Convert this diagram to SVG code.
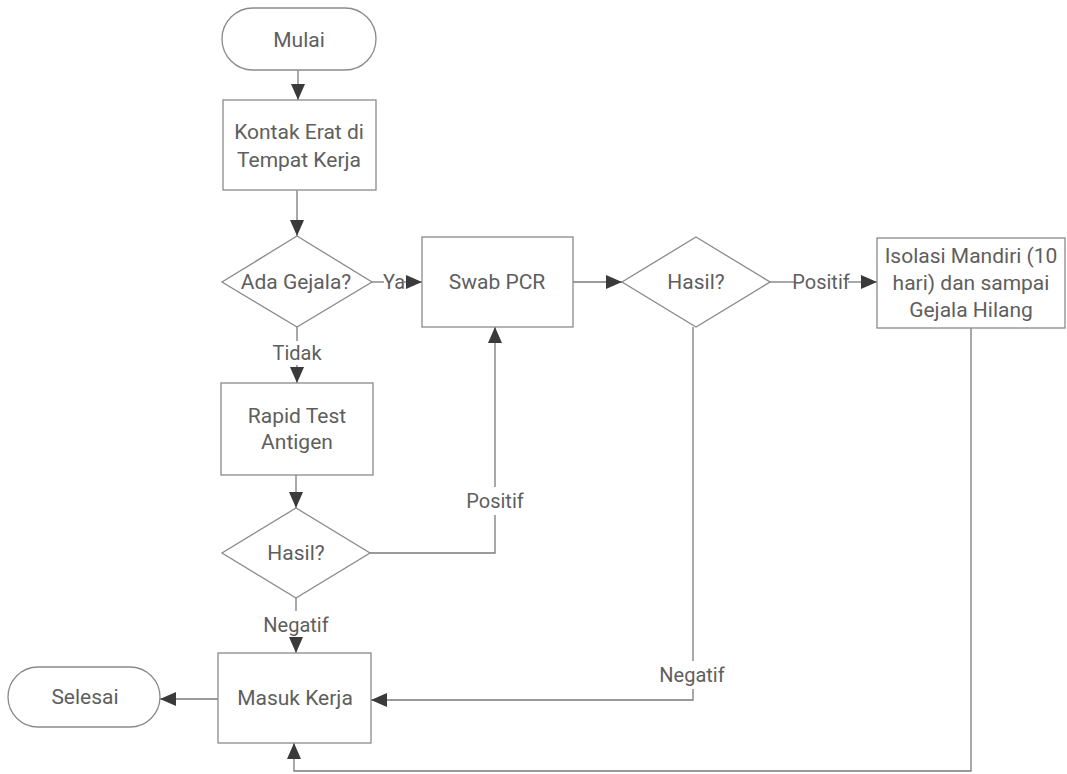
<svg xmlns="http://www.w3.org/2000/svg" width="1067" height="774" viewBox="0 0 1067 774">
  <style>
    .shape { fill: #ffffff; stroke: #8a8a8a; stroke-width: 1.3; }
    .edge { fill: none; stroke: #7a7a7a; stroke-width: 1.3; }
    .txt { font-family: Roboto, "Liberation Sans", sans-serif; font-size: 21px; fill: #5e5e5e; text-anchor: middle; dominant-baseline: central; }
    .lbl { font-family: Roboto, "Liberation Sans", sans-serif; font-size: 20px; fill: #5e5e5e; text-anchor: middle; dominant-baseline: central; }
  </style>
  <defs>
    <marker id="arrow" markerUnits="userSpaceOnUse" markerWidth="16" markerHeight="14" refX="16" refY="7" orient="auto">
      <path d="M0,0 L16,7 L0,14 Z" fill="#3a3a3a"/>
    </marker>
  </defs>
  <rect width="1067" height="774" fill="#ffffff"/>

  <g id="connectors">
    <!-- Mulai to Kontak -->
    <line class="edge" x1="298" y1="70" x2="298" y2="100" marker-end="url(#arrow)"/>
    <!-- Kontak to Ada Gejala -->
    <line class="edge" x1="297" y1="190" x2="297" y2="236" marker-end="url(#arrow)"/>
    <!-- Ada Gejala -> Ya -> Swab PCR -->
    <line class="edge" x1="372" y1="282" x2="384" y2="282"/>
    <text class="lbl" x="394" y="282">Ya</text>
    <line class="edge" x1="404" y1="282" x2="422" y2="282" marker-end="url(#arrow)"/>
    <!-- Ada Gejala -> Tidak -> Rapid -->
    <line class="edge" x1="297" y1="326" x2="297" y2="341"/>
    <text class="lbl" x="297" y="353">Tidak</text>
    <line class="edge" x1="297" y1="365" x2="297" y2="383" marker-end="url(#arrow)"/>
    <!-- Hasil (left) -> Positif -> Swab PCR -->
    <polyline class="edge" points="370,553 495,553 495,515"/>
    <text class="lbl" x="495" y="501">Positif</text>
    <line class="edge" x1="495" y1="487" x2="495" y2="327" marker-end="url(#arrow)"/>
    <!-- Rapid to Hasil -->
    <line class="edge" x1="296" y1="475" x2="296" y2="508" marker-end="url(#arrow)"/>
    <!-- Hasil (left) -> Negatif -> Masuk Kerja -->
    <line class="edge" x1="296" y1="598" x2="296" y2="611"/>
    <text class="lbl" x="296" y="625">Negatif</text>
    <line class="edge" x1="296" y1="638" x2="296" y2="653" marker-end="url(#arrow)"/>
    <!-- Swab PCR to Hasil (right) -->
    <line class="edge" x1="573" y1="282" x2="622" y2="282" marker-end="url(#arrow)"/>
    <!-- Hasil (right) -> Positif -> Isolasi -->
    <line class="edge" x1="770" y1="282" x2="794" y2="282"/>
    <text class="lbl" x="821" y="282">Positif</text>
    <line class="edge" x1="848" y1="282" x2="877" y2="282" marker-end="url(#arrow)"/>
    <!-- Hasil (right) -> Negatif -> Masuk Kerja -->
    <line class="edge" x1="693" y1="327" x2="693" y2="661"/>
    <text class="lbl" x="692" y="675">Negatif</text>
    <polyline class="edge" points="693,689 693,700 371,700" marker-end="url(#arrow)"/>
    <!-- Isolasi back to Masuk Kerja -->
    <polyline class="edge" points="971,328 971,771 294,771 294,743" marker-end="url(#arrow)"/>
    <!-- Masuk Kerja to Selesai -->
    <line class="edge" x1="218" y1="699" x2="160" y2="699" marker-end="url(#arrow)"/>
  </g>

  <g id="mulai">
    <rect class="shape" x="222" y="8" width="154" height="62" rx="31" ry="31"/>
    <text class="txt" x="299" y="40">Mulai</text>
  </g>

  <g id="kontak-erat">
    <rect class="shape" x="223" y="100" width="153" height="90"/>
    <text class="txt" x="299" y="132">Kontak Erat di</text>
    <text class="txt" x="299" y="160">Tempat Kerja</text>
  </g>

  <g id="ada-gejala">
    <polygon class="shape" points="297,236 372,282 297,327 222,282"/>
    <text class="txt" x="296" y="282">Ada Gejala?</text>
  </g>

  <g id="swab-pcr">
    <rect class="shape" x="422" y="237" width="151" height="90"/>
    <text class="txt" x="497" y="282">Swab PCR</text>
  </g>

  <g id="hasil-pcr">
    <polygon class="shape" points="696,237 770,282 696,327 622,282"/>
    <text class="txt" x="696" y="282">Hasil?</text>
  </g>

  <g id="isolasi-mandiri">
    <rect class="shape" x="877" y="238" width="188" height="90"/>
    <text class="txt" x="971" y="256">Isolasi Mandiri (10</text>
    <text class="txt" x="971" y="283">hari) dan sampai</text>
    <text class="txt" x="971" y="310">Gejala Hilang</text>
  </g>

  <g id="rapid-test">
    <rect class="shape" x="221" y="383" width="152" height="92"/>
    <text class="txt" x="297" y="416">Rapid Test</text>
    <text class="txt" x="297" y="442">Antigen</text>
  </g>

  <g id="hasil-rapid">
    <polygon class="shape" points="296,508 370,553 296,598 222,553"/>
    <text class="txt" x="296" y="553">Hasil?</text>
  </g>

  <g id="masuk-kerja">
    <rect class="shape" x="218" y="653" width="153" height="90"/>
    <text class="txt" x="295" y="698">Masuk Kerja</text>
  </g>

  <g id="selesai">
    <rect class="shape" x="8" y="667" width="152" height="60" rx="30" ry="30"/>
    <text class="txt" x="85" y="697">Selesai</text>
  </g>
</svg>
